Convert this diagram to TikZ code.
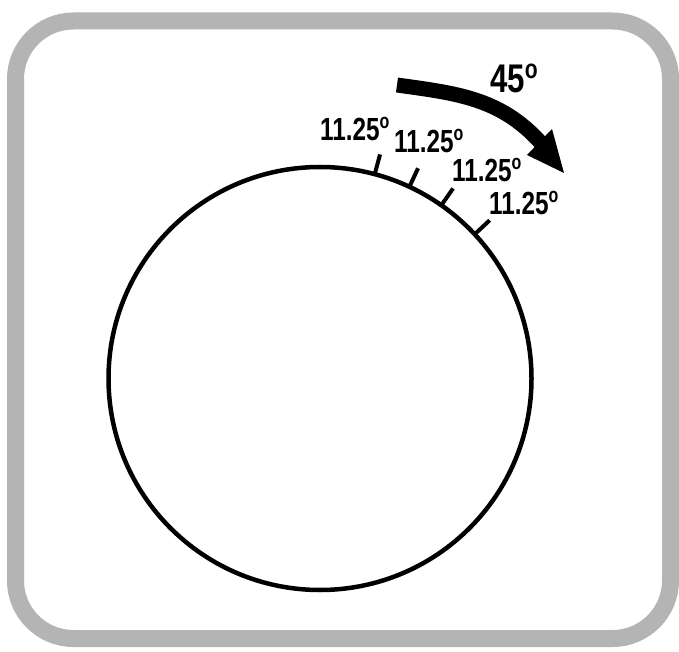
\documentclass[tikz,border=0pt]{standalone}
\usepackage{fontspec}
\setmainfont{Liberation Sans}
\definecolor{framegray}{RGB}{180,180,180}
\newcommand{\deglbl}[1]{\scalebox{0.76}[1]{\fontsize{32}{32}\selectfont\bfseries #1\raisebox{12pt}{\fontsize{21}{21}\selectfont o}}}
\newcommand{\biglbl}[1]{\scalebox{0.78}[1]{\fontsize{40}{40}\selectfont\bfseries #1\raisebox{14.5pt}{\fontsize{27}{27}\selectfont o}}}
\tikzset{
  frame/.style={draw=framegray, line width=17pt, rounded corners=58pt},
  dial/.style={draw=black, line width=4.5pt},
  tickmark/.style={draw=black, line width=4pt},
  lbl/.style={inner sep=0pt, anchor=base west, text=black},
  bigarrow/.style={draw=black, line width=15pt},
}
\begin{document}
\begin{tikzpicture}[x=1pt,y=1pt]
\useasboundingbox (0,0) rectangle (679,651);
\fill[white] (0,0) rectangle (679,651);
\draw[frame] (15.5,12.5) rectangle (670.5,630);
\coordinate (c) at (320,272.5);
\draw[dial] (c) circle (211.5);
\foreach \a/\n in {75/1,65/2,55/3,43/4}{
  \coordinate (t\n a) at ([shift={(\a:210)}]c);
  \coordinate (t\n b) at ([shift={(\a:232)}]c);
  \draw[tickmark] (t\n a) -- (t\n b);
}
\node[lbl] (l1) at (320,510) {\deglbl{11.25}};
\node[lbl] (l2) at (394,498) {\deglbl{11.25}};
\node[lbl] (l3) at (452,469) {\deglbl{11.25}};
\node[lbl] (l4) at (489,436) {\deglbl{11.25}};
\node[lbl] (l45) at (490,558) {\biglbl{45}};
\coordinate (as) at (397,566);
\coordinate (ae) at (541,508);
\draw[bigarrow] (as) to[out=-8,in=132] (ae);
\coordinate (h1) at (552,522);
\coordinate (h2) at (527,496);
\coordinate (h3) at (564,478);
\fill[black] (h1) -- (h2) -- (h3) -- cycle;
\end{tikzpicture}
\end{document}
